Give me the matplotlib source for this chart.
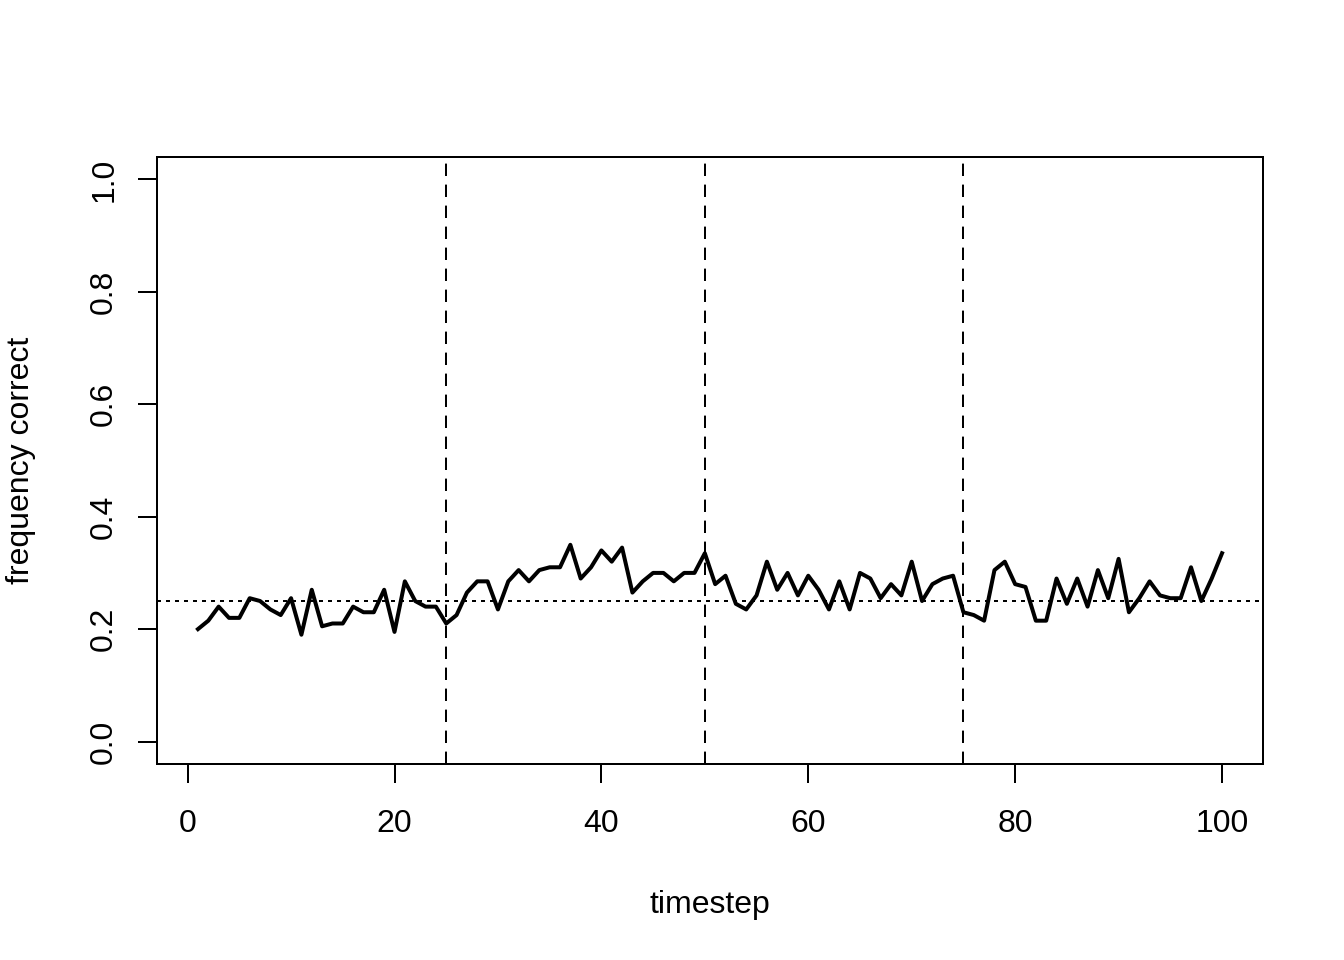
import matplotlib
matplotlib.use("Agg")
import matplotlib.pyplot as plt
import numpy as np

# frequency correct per timestep
timestep = np.arange(1, 101)
freq_correct = [
    0.20, 0.215, 0.24, 0.22, 0.22, 0.255, 0.25, 0.235, 0.225, 0.255,
    0.19, 0.27, 0.205, 0.21, 0.21, 0.24, 0.23, 0.23, 0.27, 0.195,
    0.285, 0.25, 0.24, 0.24, 0.21, 0.225, 0.265, 0.285, 0.285, 0.235,
    0.285, 0.305, 0.285, 0.305, 0.31, 0.31, 0.35, 0.29, 0.31, 0.34,
    0.32, 0.345, 0.265, 0.285, 0.30, 0.30, 0.285, 0.30, 0.30, 0.335,
    0.28, 0.295, 0.245, 0.235, 0.26, 0.32, 0.27, 0.30, 0.26, 0.295,
    0.27, 0.235, 0.285, 0.235, 0.30, 0.29, 0.255, 0.28, 0.26, 0.32,
    0.25, 0.28, 0.29, 0.295, 0.23, 0.225, 0.215, 0.305, 0.32, 0.28,
    0.275, 0.215, 0.215, 0.29, 0.245, 0.29, 0.24, 0.305, 0.255, 0.325,
    0.23, 0.255, 0.285, 0.26, 0.255, 0.255, 0.31, 0.25, 0.29, 0.335,
]
phase_breaks = [25, 50, 75]
chance = 0.25

plt.rcParams['font.family'] = ['Liberation Sans', 'DejaVu Sans']
plt.rcParams['font.size'] = 12

fig = plt.figure(figsize=(7, 5), dpi=192)
ax = fig.add_axes([157/1344, 1 - 764/960, (1263-157)/1344, (764-157)/960])

ax.plot(timestep, freq_correct, color='black', lw=1.5, solid_joinstyle='round')
# dash patterns are scaled by linewidth (0.75)
for b in phase_breaks:
    ax.axvline(b, color='black', lw=0.75, linestyle=(0, (6.2, 4.3)))
ax.axhline(chance, color='black', lw=0.75, linestyle=(0, (2.0, 2.5)))

ax.set_xlim(-2.96, 103.96)
ax.set_ylim(-0.04, 1.04)
ax.set_xticks([0, 20, 40, 60, 80, 100])
ax.set_yticks([0.0, 0.2, 0.4, 0.6, 0.8, 1.0])
ax.set_yticklabels(['0.0', '0.2', '0.4', '0.6', '0.8', '1.0'], rotation=90, va='center')

for s in ax.spines.values():
    s.set_linewidth(0.75)
ax.tick_params(length=7.2, width=0.75, labelsize=12)
ax.tick_params(axis='x', pad=9.7)
ax.tick_params(axis='y', pad=7)

ax.set_xlabel('timestep', fontsize=12, labelpad=19.2)
ax.set_ylabel('frequency correct', fontsize=12, labelpad=20)

fig.savefig('out.png', dpi=192)
